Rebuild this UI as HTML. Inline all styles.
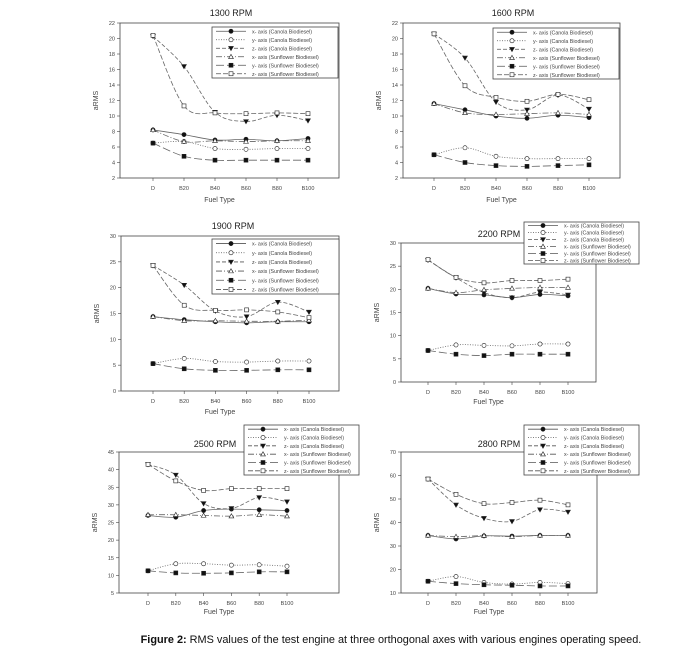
<!DOCTYPE html>
<html><head><meta charset="utf-8"><style>
body{margin:0;background:#fff;}
svg{display:block;font-family:"Liberation Sans",Arial,sans-serif;}
</style></head><body>
<svg id="s" width="700" height="651" viewBox="0 0 700 651" xmlns="http://www.w3.org/2000/svg">
<text x="391" y="643" font-size="10.9" text-anchor="middle" fill="#111"><tspan font-weight="bold">Figure 2:</tspan> RMS values of the test engine at three orthogonal axes with various engines operating speed.</text>
</svg>
<script>
const S=document.getElementById('s');const NS='http://www.w3.org/2000/svg';
function el(t,a,txt){const e=document.createElementNS(NS,t);for(const k in a)e.setAttribute(k,a[k]);if(txt!==undefined)e.textContent=txt;S.appendChild(e);return e;}
const labels=['D','B20','B40','B60','B80','B100'];
const sty=[{d:'',m:'fc'},{d:'1,1.5',m:'oc'},{d:'4,2',m:'ft'},{d:'6,2,1,2',m:'ot'},{d:'8,3',m:'fs'},{d:'5,2',m:'os'}];
const names=['x- axis (Canola Biodiesel)','y- axis (Canola Biodiesel)','z- axis (Canola Biodiesel)','x- axis (Sunflower Biodiesel)','y- axis (Sunflower Biodiesel)','z- axis (Sunflower Biodiesel)'];
function marker(x,y,m){
 const f=m[0]=='f'?'#111':'#fff';
 if(m[1]=='c')el('circle',{cx:x,cy:y,r:2.1,fill:f,stroke:'#222','stroke-width':0.6});
 else if(m[1]=='s')el('rect',{x:x-2,y:y-2,width:4,height:4,fill:f,stroke:'#222','stroke-width':0.6});
 else if(m=='ft')el('polygon',{points:`${x-2.4},${y-1.8} ${x+2.4},${y-1.8} ${x},${y+2.4}`,fill:f,stroke:'#222','stroke-width':0.6});
 else el('polygon',{points:`${x-2.4},${y+1.8} ${x+2.4},${y+1.8} ${x},${y-2.4}`,fill:f,stroke:'#222','stroke-width':0.6});
}
function spline(p){let d=`M${p[0][0]},${p[0][1]}`;for(let i=0;i<p.length-1;i++){const p0=p[i-1]||p[i],p1=p[i],p2=p[i+1],p3=p[i+2]||p2;
 d+=` C${p1[0]+(p2[0]-p0[0])/6},${p1[1]+(p2[1]-p0[1])/6} ${p2[0]-(p3[0]-p1[0])/6},${p2[1]-(p3[1]-p1[1])/6} ${p2[0]},${p2[1]}`;}return d;}
function panel(P){
 const{L,R,T,B,y0,y1,step,xs,title,tx,ty,leg,data,fy}=P;
 el('rect',{x:L,y:T,width:R-L,height:B-T,fill:'none',stroke:'#444','stroke-width':0.8});
 el('text',{x:tx,y:ty,'font-size':9,'text-anchor':'middle',fill:'#222'},title);
 for(let v=y0;v<=y1+1e-6;v+=step){const y=B-(v-y0)/(y1-y0)*(B-T);
  el('line',{x1:L-3,x2:L,y1:y,y2:y,stroke:'#444','stroke-width':0.6});
  el('text',{x:L-5,y:y+2,'font-size':5.5,'text-anchor':'end',fill:'#444'},v);}
 xs.forEach((x,i)=>{el('line',{x1:x,x2:x,y1:B,y2:B+3,stroke:'#444','stroke-width':0.6});
  el('text',{x:x,y:B+12,'font-size':5.5,'text-anchor':'middle',fill:'#444'},labels[i]);});
 el('text',{x:(L+R)/2-10,y:fy,'font-size':7,'text-anchor':'middle',fill:'#444'},'Fuel Type');
 const ly=(T+B)/2;el('text',{x:L-22,y:ly,'font-size':7,'text-anchor':'middle',fill:'#444',transform:`rotate(-90 ${L-22} ${ly})`},'aRMS');
 data.forEach((ser,k)=>{const pts=ser.map((v,i)=>[xs[i],B-(v-y0)/(y1-y0)*(B-T)]);
  el('path',{d:spline(pts),fill:'none',stroke:'#666','stroke-width':0.8,'stroke-dasharray':sty[k].d});
  pts.forEach(p=>marker(p[0],p[1],sty[k].m));});
 const[lx,ly0,lx2,ly2]=leg;el('rect',{x:lx,y:ly0,width:lx2-lx,height:ly2-ly0,fill:'#fff',stroke:'#444','stroke-width':0.8});
 const h=(ly2-ly0)/6;
 for(let k=0;k<6;k++){const y=ly0+h*(k+0.5);
  el('line',{x1:lx+4,x2:lx+34,y1:y,y2:y,stroke:'#555','stroke-width':0.8,'stroke-dasharray':sty[k].d});
  marker(lx+19,y,sty[k].m);
  el('text',{x:lx+40,y:y+2,'font-size':5.3,fill:'#444'},names[k]);}
}
const ev=(a,s)=>[0,1,2,3,4,5].map(i=>a+s*i);
panel({L:120,R:339,T:23,B:178,y0:2,y1:22,step:2,xs:ev(153,31),title:'1300 RPM',tx:231,ty:16,leg:[212,27,338,78],fy:202,
data:[[8.2,7.6,6.9,7.0,6.8,7.1],[6.5,6.7,5.8,5.7,5.8,5.8],[20.3,16.4,10.5,9.3,10.1,9.4],[8.2,6.7,6.8,6.7,6.8,6.8],[6.5,4.8,4.3,4.3,4.3,4.3],[20.4,11.3,10.4,10.3,10.4,10.3]]});
panel({L:403,R:620,T:23,B:178,y0:2,y1:22,step:2,xs:ev(434,31),title:'1600 RPM',tx:513,ty:16,leg:[493,28,619,79],fy:202,
data:[[11.6,10.8,10.0,9.7,10.1,9.8],[5.0,5.9,4.8,4.5,4.5,4.5],[20.6,17.5,11.8,10.8,12.7,10.9],[11.6,10.4,10.2,10.3,10.4,10.2],[5.0,4.0,3.6,3.5,3.6,3.7],[20.6,13.9,12.4,11.9,12.8,12.1]]});
panel({L:121,R:339,T:236,B:391,y0:0,y1:30,step:5,xs:ev(153,31.2),title:'1900 RPM',tx:233,ty:229,leg:[212,239,339,294],fy:414,
data:[[14.4,13.8,13.4,13.2,13.4,13.4],[5.3,6.3,5.7,5.6,5.8,5.8],[24.3,20.5,15.5,14.4,17.2,15.3],[14.4,13.6,13.6,13.5,13.5,13.7],[5.3,4.3,4.0,4.0,4.1,4.1],[24.3,16.6,15.6,15.7,15.3,14.2]]});
panel({L:401,R:596,T:243,B:382,y0:0,y1:30,step:5,xs:ev(428,28),title:'2200 RPM',tx:499,ty:237,leg:[524,222,639,264],fy:404,
data:[[20.2,19.0,18.8,18.2,18.9,18.6],[6.8,8.0,7.9,7.8,8.2,8.2],[26.3,22.5,19.3,18.2,19.4,18.8],[20.2,19.3,19.9,20.2,20.4,20.4],[6.8,6.0,5.7,6.0,6.0,6.0],[26.4,22.6,21.4,21.9,21.9,22.2]]});
panel({L:119,R:339,T:452,B:593,y0:5,y1:45,step:5,xs:ev(148,27.8),title:'2500 RPM',tx:215,ty:447,leg:[244,425,359,475],fy:614,
data:[[27,26.5,28.4,28.8,28.6,28.4],[11.3,13.3,13.3,12.9,13.0,12.6],[41.5,38.5,30.4,29.0,32.1,30.9],[27.2,27.2,27.0,26.8,27.2,26.8],[11.3,10.7,10.6,10.7,11.0,11.0],[41.5,36.8,34.1,34.6,34.6,34.6]]});
panel({L:401,R:597,T:452,B:593,y0:10,y1:70,step:10,xs:ev(428,28),title:'2800 RPM',tx:499,ty:447,leg:[524,425,639,475],fy:614,
data:[[34.5,33.0,34.3,34.2,34.5,34.5],[15,17,14.5,13.8,14.5,14],[58.5,47.5,41.8,40.5,45.5,44.5],[34.5,34,34.4,34,34.5,34.5],[15,14,13.5,13.3,13,13],[58.5,52,48,48.5,49.5,47.5]]});
</script>
</body></html>
